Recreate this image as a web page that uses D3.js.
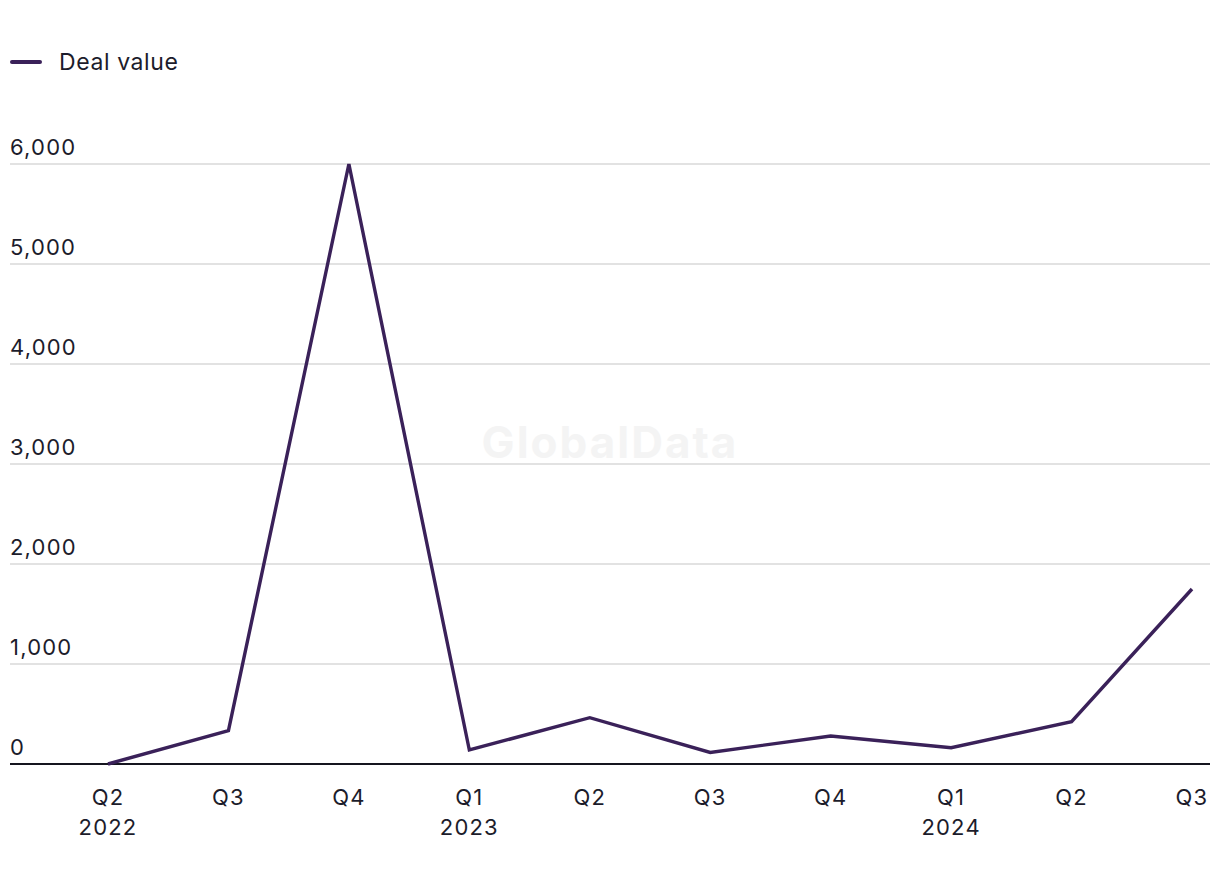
<!DOCTYPE html>
<html><head><meta charset="utf-8">
<script src="https://cdn.jsdelivr.net/npm/d3@7"></script>
<style>body{margin:0;background:#fff;}svg{display:block;font-family:Inter,"Noto Sans",sans-serif;}</style>
</head><body>
<svg id="c" width="1220" height="884"></svg>
<script>
const quarters = ["Q2","Q3","Q4","Q1","Q2","Q3","Q4","Q1","Q2","Q3"];
const years = ["2022","","","2023","","","","2024","",""];
const dealValue = [0,333,6000,140,463,115,280,163,423,1750];
const yTicks = [0,1000,2000,3000,4000,5000,6000];
const seriesName = "Deal value";

const svg = d3.select("#c");
const idx = d3.range(quarters.length);
const x = d3.scalePoint().domain(idx).range([108,1192]);
const y = d3.scaleLinear().domain([0,6000]).range([764,164]);
const lineColor = "#3a2159", textColor = "#1c1c2b";

// watermark
svg.append("text").attr("x",610).attr("y",458).attr("text-anchor","middle")
  .attr("font-size",44).attr("letter-spacing",2).attr("font-weight",700).attr("fill","#f4f4f4").text("GlobalData");

// grid
const g = svg.append("g");
yTicks.filter(d=>d>0).forEach(t=>{
  g.append("line").attr("x1",10).attr("x2",1210).attr("y1",y(t)).attr("y2",y(t))
   .attr("stroke","#d9d9d9").attr("stroke-width",1.5);
});
yTicks.forEach(t=>{
  g.append("text").attr("x",10).attr("y",y(t)-9).attr("font-size",22).attr("letter-spacing",1.2).attr("fill",textColor)
   .text(d3.format(",")(t));
});
// baseline
svg.append("line").attr("x1",10).attr("x2",1210).attr("y1",y(0)).attr("y2",y(0))
  .attr("stroke","#15151f").attr("stroke-width",2);

// x labels
idx.forEach(i=>{
  const t = svg.append("text").attr("x",x(i)).attr("text-anchor","middle").attr("font-size",22).attr("letter-spacing",1.2).attr("fill",textColor);
  t.append("tspan").attr("x",x(i)).attr("y",805).text(quarters[i]);
  if(years[i]) t.append("tspan").attr("x",x(i)).attr("y",835).text(years[i]);
});

// line
svg.append("path").datum(idx).attr("fill","none").attr("stroke",lineColor).attr("stroke-width",3.4)
  .attr("stroke-linejoin","miter")
  .attr("d",d3.line().x(i=>x(i)).y(i=>y(dealValue[i])));

// legend
svg.append("line").attr("x1",12).attr("x2",40).attr("y1",62).attr("y2",62)
  .attr("stroke",lineColor).attr("stroke-width",4).attr("stroke-linecap","round");
svg.append("text").attr("x",59).attr("y",70).attr("font-size",23).attr("letter-spacing",0.6).attr("fill",textColor).text(seriesName);
</script>
</body></html>
